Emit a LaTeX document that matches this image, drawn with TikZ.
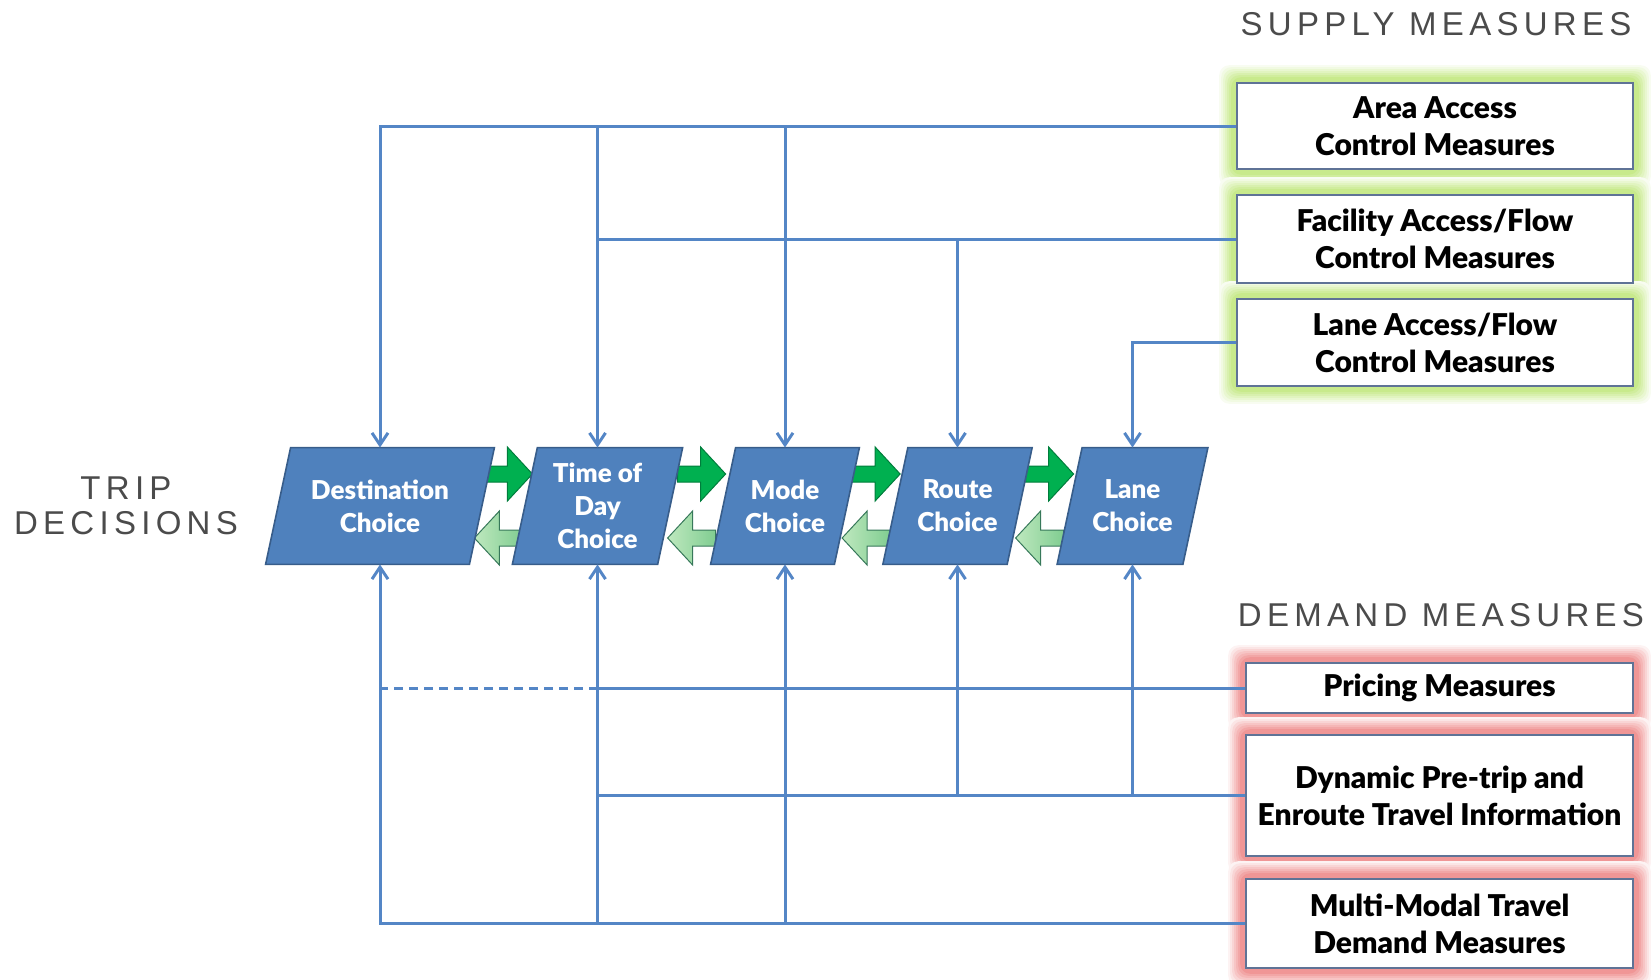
\documentclass[tikz,border=0pt]{standalone}
\usepackage{fontspec}
\setmainfont{Lato}[BoldFont={Lato Black}]
\newfontfamily\headfont[LetterSpace=16]{Liberation Sans}
\usetikzlibrary{arrows.meta,calc,backgrounds}
\definecolor{choiceblue}{RGB}{79,129,189}
\definecolor{choiceedge}{RGB}{56,93,138}
\definecolor{linkblue}{RGB}{84,134,198}
\definecolor{boxedge}{RGB}{95,115,150}
\definecolor{headgray}{RGB}{75,75,75}
\definecolor{fwdgreen}{RGB}{0,176,80}
\definecolor{fwdedge}{RGB}{0,125,60}
\definecolor{backlight}{RGB}{190,232,190}
\definecolor{backdark}{RGB}{128,205,145}
\definecolor{backedge}{RGB}{55,120,90}
\definecolor{glowgreen}{RGB}{200,234,140}
\definecolor{glowred}{RGB}{240,150,150}
\begin{document}
\begin{tikzpicture}[x=0.5pt,y=-0.5pt]
		\tikzset{choice/.style = {rectangle, text=white, font=\fontsize{13}{16.5}\selectfont\bfseries, align=center, minimum height=58pt, inner sep=0pt}}
		\tikzset{choicefill/.style = {draw=choiceedge, fill=choiceblue, line width=0.8pt}}
		\tikzset{measure/.style = {rectangle, draw=boxedge, fill=white, font=\fontsize{15}{18.5}\selectfont\bfseries, align=center, inner sep=0pt, line width=0.8pt}}
		\tikzset{header/.style = {font=\headfont\fontsize{16.5}{17.5}\selectfont, text=headgray, align=center}}
		\tikzset{link/.style = {draw=linkblue, line width=1.5pt}}
		\tikzset{tip/.style = {link, -{Straight Barb[length=6pt,width=8pt]}}}
		\tikzset{fwdarrow/.pic = {\draw[fill=fwdgreen, draw=fwdedge, line width=0.5pt] (-26,-8) -- (-3,-8) -- (-3,-27) -- (22,0) -- (-3,27) -- (-3,8) -- (-26,8) -- cycle;}}
		\tikzset{backarrow/.pic = {\draw[left color=backlight, right color=backdark, draw=backedge, line width=0.5pt] (26,-8) -- (3,-8) -- (3,-27) -- (-22,0) -- (3,27) -- (3,8) -- (26,8) -- cycle;}}
		\useasboundingbox (0,0) rectangle (1651,980);
		\node[header] (supply) at (1436,24) {SUPPLY MEASURES};
		\node[header] (demand) at (1441,615) {DEMAND MEASURES};
		\node[header] (trip) at (126,506) {TRIP\\DECISIONS};
		\node[choice, minimum width=101.5pt] (dest) at (380,506) {Destination\\Choice};
		\node[choice, minimum width=72.25pt] (tod) at (597.5,506) {Time of\\Day\\Choice};
		\node[choice, minimum width=61.5pt] (mode) at (785,506) {Mode\\Choice};
		\node[choice, minimum width=61.75pt] (route) at (957.5,506) {Route\\Choice};
		\node[choice, minimum width=62.5pt] (lane) at (1132.5,506) {Lane\\Choice};
		\node[measure, minimum width=198pt, minimum height=43pt] (area) at (1435,126) {Area Access\\Control Measures};
		\node[measure, minimum width=198pt, minimum height=44pt] (facil) at (1435,239) {Facility Access/Flow\\Control Measures};
		\node[measure, minimum width=198pt, minimum height=43.5pt] (laneacc) at (1435,342.5) {Lane Access/Flow\\Control Measures};
		\node[measure, minimum width=193.5pt, minimum height=25pt] (price) at (1439.5,688) {Pricing Measures};
		\node[measure, minimum width=193.5pt, minimum height=60.5pt] (dyn) at (1439.5,795.5) {Dynamic Pre-trip and\\Enroute Travel Information};
		\node[measure, minimum width=193.5pt, minimum height=44.5pt] (multi) at (1439.5,923.5) {Multi-Modal Travel\\Demand Measures};
		\begin{scope}[on background layer]
			\foreach \b/\c in {area/glowgreen,facil/glowgreen,laneacc/glowgreen,price/glowred,dyn/glowred,multi/glowred}
				\foreach \g/\m in {17/12,15/25,13/40,11/55,9/70,7/85,5/100}
					\fill[\c!\m, rounded corners=5pt] ($(\b.south west)+(-\g,\g)$) rectangle ($(\b.north east)+(\g,-\g)$);
			\foreach \a/\b in {dest/tod,tod/mode,mode/route,route/lane} {
				\path ($(\a.east)!0.5!(\b.west)$) ++(7,-32) pic {fwdarrow};
				\path ($(\a.east)!0.5!(\b.west)$) ++(-7,32) pic {backarrow};
			}
			\foreach \n in {dest,tod,mode,route,lane}
				\draw[choicefill] ($(\n.south west)+(-12.5,0)$) -- ($(\n.south east)+(-12.5,0)$) -- ($(\n.north east)+(12.5,0)$) -- ($(\n.north west)+(12.5,0)$) -- cycle;
		\end{scope}
		\draw[tip] (area.west) -| (dest.north);
		\draw[tip] (area.west -| tod.north) -- (tod.north);
		\draw[tip] (area.west -| mode.north) -- (mode.north);
		\draw[link] (facil.west) -- (facil.west -| tod.north);
		\draw[tip] (facil.west -| route.north) -- (route.north);
		\draw[tip] (laneacc.west) -| (lane.north);
		\draw[link] (price.west) -- (price.west -| tod.south);
		\draw[link, dash pattern=on 4.5pt off 3pt] (price.west -| tod.south) -- (price.west -| dest.south);
		\draw[link] (dyn.west) -- (dyn.west -| tod.south);
		\draw[tip] (dyn.west -| route.south) -- (route.south);
		\draw[tip] (dyn.west -| lane.south) -- (lane.south);
		\draw[tip] (multi.west) -| (dest.south);
		\draw[tip] (multi.west -| tod.south) -- (tod.south);
		\draw[tip] (multi.west -| mode.south) -- (mode.south);
	\end{tikzpicture}
\end{document}
